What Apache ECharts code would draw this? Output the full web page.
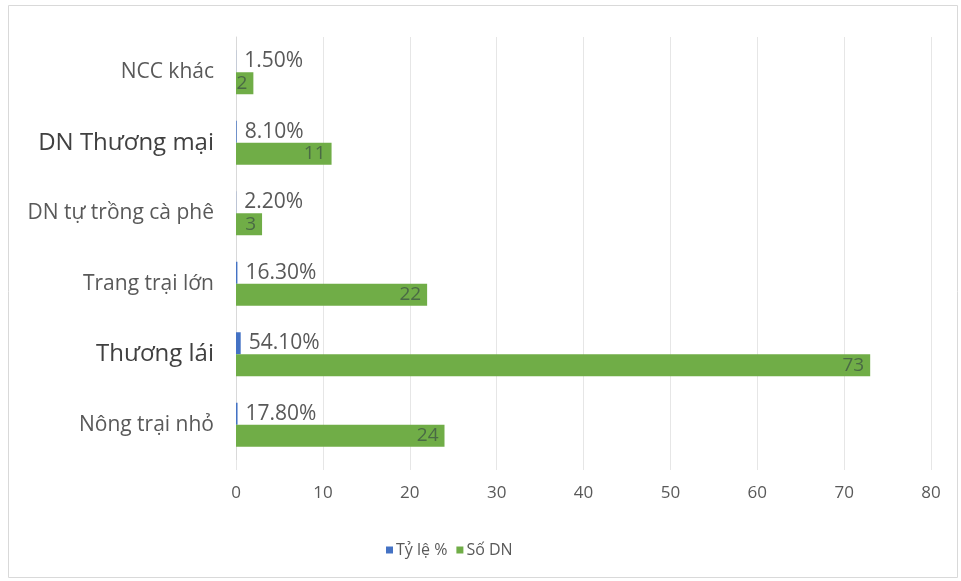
<!DOCTYPE html>
<html><head><meta charset="utf-8">
<script src="https://cdn.jsdelivr.net/npm/echarts@6/dist/echarts.min.js"></script>
<style>html,body{margin:0;padding:0;background:#fff}#c{width:961px;height:581px}</style>
</head><body><div id="c"></div>
<script>
const categories = ['Nông trại nhỏ','Thương lái','Trang trại lớn','DN tự trồng cà phê','DN Thương mại','NCC khác'];
const tyLe = [0.178, 0.541, 0.163, 0.022, 0.081, 0.015];
const soDN = [24, 73, 22, 3, 11, 2];
const xTicks = [0, 80, 10];
const big = {'Thương lái':1,'DN Thương mại':1};
const chart = echarts.init(document.getElementById('c'));
chart.setOption({
  animation:false,
  textStyle:{fontFamily:'Open Sans'},
  graphic:[{type:'rect',shape:{x:8.5,y:5.5,width:949,height:572},style:{fill:'none',stroke:'#d9d9d9',lineWidth:1}}],
  grid:{left:236,right:30,top:37,bottom:121},
  legend:{left:381,top:537,itemWidth:7,itemHeight:7,itemGap:9,icon:'rect',
    textStyle:{color:'#595959',fontSize:16,fontFamily:'Open Sans',padding:[0,0,0,-2]},
    data:['Tỷ lệ %','Số DN']},
  xAxis:{type:'value',min:xTicks[0],max:xTicks[1],interval:xTicks[2],
    axisLine:{show:false},axisTick:{show:true,length:10,lineStyle:{color:'#e6e6e6'}},
    splitLine:{lineStyle:{color:'#e6e6e6'}},
    axisLabel:{color:'#595959',fontSize:17,margin:25}},
  yAxis:{type:'category',data:categories,
    axisLine:{show:true,lineStyle:{color:'#d9d9d9'}},axisTick:{show:false},
    axisLabel:{margin:22,formatter:v=>big[v]?'{b|'+v+'}':'{a|'+v+'}',
      rich:{a:{color:'#595959',fontSize:21,fontFamily:'Open Sans'},b:{color:'#404040',fontSize:24,fontFamily:'Open Sans'}}}},
  series:[
    {name:'Tỷ lệ %',type:'bar',data:tyLe,barWidth:22,barGap:'0%',itemStyle:{color:'#4472c4'},
     label:{show:true,position:'right',distance:8,color:'#595959',fontSize:21,
       formatter:p=>(p.value*100).toFixed(2)+'%'}},
    {name:'Số DN',type:'bar',data:soDN,barWidth:22,itemStyle:{color:'#70ad47'},
     label:{show:true,position:'insideRight',distance:6,color:'#4a6a45',fontSize:19}}
  ]
});
</script></body></html>
